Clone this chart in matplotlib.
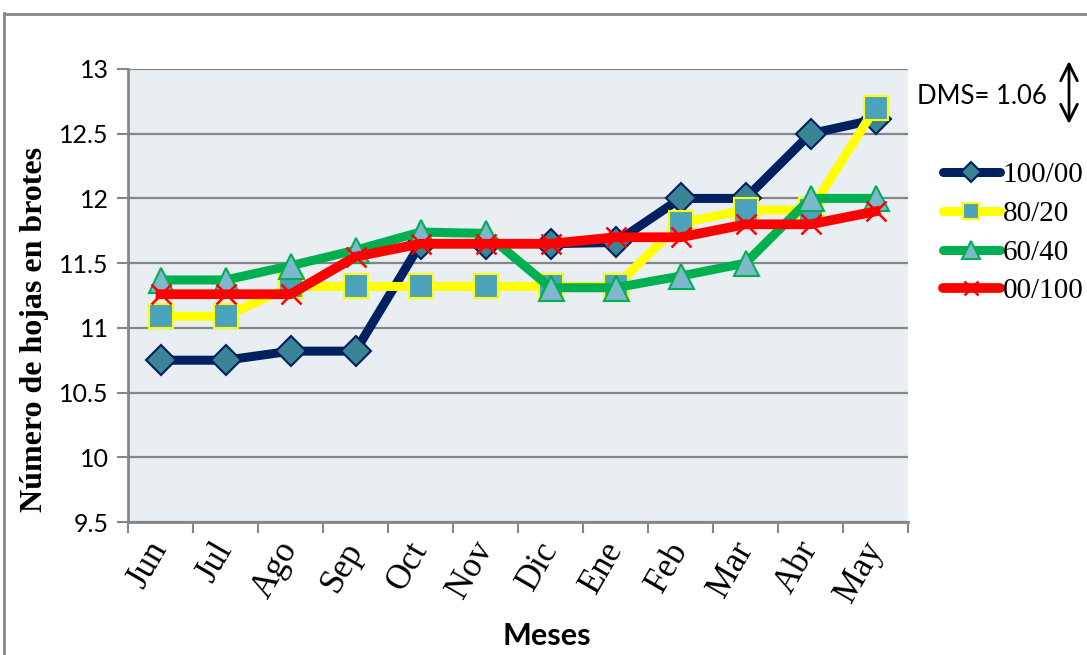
import matplotlib
matplotlib.use("Agg")
import matplotlib.pyplot as plt
from matplotlib.lines import Line2D
from matplotlib.patches import FancyArrowPatch
import matplotlib.transforms as mtransforms
import numpy as np

meses = ["Jun", "Jul", "Ago", "Sep", "Oct", "Nov", "Dic", "Ene", "Feb", "Mar", "Abr", "May"]
s_100_00 = [10.75, 10.75, 10.82, 10.82, 11.65, 11.65, 11.65, 11.66, 12.0, 12.0, 12.5, 12.61]
s_80_20 = [11.09, 11.09, 11.32, 11.32, 11.32, 11.32, 11.32, 11.32, 11.81, 11.91, 11.91, 12.7]
s_60_40 = [11.37, 11.37, 11.48, 11.6, 11.74, 11.73, 11.31, 11.31, 11.4, 11.5, 12.0, 12.0]
s_00_100 = [11.26, 11.26, 11.26, 11.55, 11.65, 11.65, 11.65, 11.7, 11.7, 11.8, 11.8, 11.9]
series_labels = ["100/00", "80/20", "60/40", "00/100"]
yticks = [9.5, 10, 10.5, 11, 11.5, 12, 12.5, 13]
ytick_labels = ["9.5", "10", "10.5", "11", "11.5", "12", "12.5", "13"]

W, H = 1087, 655
fig = plt.figure(figsize=(W / 100, H / 100), dpi=100)
ax = fig.add_axes([128 / W, 1 - 522 / H, 780 / W, (522 - 69) / H])
ax.set_facecolor("#E8EEF2")

x = np.arange(len(meses))
grid_c = "#868686"

ax.plot(x, s_100_00, color="#002060", lw=6.5, marker="D", ms=15,
        mfc="#3A8496", mec="#002060", mew=1.5, label=series_labels[0], zorder=3)
ax.plot(x, s_80_20, color="#FFFF00", lw=6.5, marker="s", ms=17,
        mfc="#4AA3BA", mec="#FFFF00", mew=1.5, label=series_labels[1], zorder=3)
ax.plot(x, s_60_40, color="#00B050", lw=6.5, marker="^", ms=18,
        mfc="#7FB8CE", mec="#00B050", mew=1.5, label=series_labels[2], zorder=3)
ax.plot(x, s_00_100, color="#FF0000", lw=7, marker="x", ms=15,
        mfc="#FF0000", mec="#FF0000", mew=1.8, label=series_labels[3], zorder=3)

ax.set_xlim(-0.5, len(meses) - 0.5)
ax.set_ylim(9.5, 13)
ax.set_yticks(yticks)
ax.set_yticklabels(ytick_labels, family="Lato", fontsize=18)
ax.set_xticks(x)
ax.set_xticklabels(meses, family="Liberation Serif", fontsize=25,
                   rotation=60, rotation_mode="anchor", ha="right", va="center")
offset = mtransforms.ScaledTranslation(10 / 100, 0, fig.dpi_scale_trans)
for lbl in ax.get_xticklabels():
    lbl.set_transform(lbl.get_transform() + offset)
ax.set_xticks(np.arange(-0.5, len(meses)), minor=True)
ax.tick_params(axis="x", which="major", length=0, pad=16)
ax.tick_params(axis="x", which="minor", length=8, width=1.5, color=grid_c)
ax.tick_params(axis="y", length=8, width=1.5, color=grid_c, pad=6)

ax.grid(axis="y", color=grid_c, lw=1.6, zorder=1)
ax.set_axisbelow(True)
for s in ["top", "right"]:
    ax.spines[s].set_visible(False)
for s in ["left", "bottom"]:
    ax.spines[s].set_color(grid_c)
    ax.spines[s].set_linewidth(2)

ax.set_ylabel("Número de hojas en brotes", family="Liberation Serif",
              fontweight="bold", fontsize=23, va="center")
ax.yaxis.set_label_coords((35 - 128) / 780, (522 - 329) / 453)
ax.set_xlabel("Meses", family="Lato", fontweight="bold", fontsize=22, va="center")
ax.xaxis.set_label_coords((547 - 128) / 780, (522 - 636) / 453)

leg = fig.legend(loc="upper left", bbox_to_anchor=(943 / W, 1 - 162 / H),
                 frameon=False, prop={"family": "Liberation Serif", "size": 21},
                 handlelength=1.95, handletextpad=0.1, labelspacing=0.42,
                 borderaxespad=0, borderpad=0, markerscale=0.7)
for h in leg.legend_handles:
    h.set_solid_capstyle("round")

fig.text(917 / W, 1 - 97 / H, "DMS= 1.06", family="Lato", fontsize=18.5,
         ha="left", va="center")
fig.add_artist(FancyArrowPatch(
    (1069 / W, 1 - 61 / H), (1069 / W, 1 - 124 / H), transform=fig.transFigure,
    arrowstyle="<->,head_length=12,head_width=6", color="black", lw=2,
    mutation_scale=1, shrinkA=0, shrinkB=0))

# outer chart frame
fig.add_artist(Line2D([3.5 / W, 3.5 / W], [0, 1 - 13 / H], transform=fig.transFigure,
                      color=grid_c, lw=2))
fig.add_artist(Line2D([3.5 / W, 1], [1 - 13.5 / H, 1 - 13.5 / H], transform=fig.transFigure,
                      color=grid_c, lw=2))

fig.savefig("out.png", dpi=100)
